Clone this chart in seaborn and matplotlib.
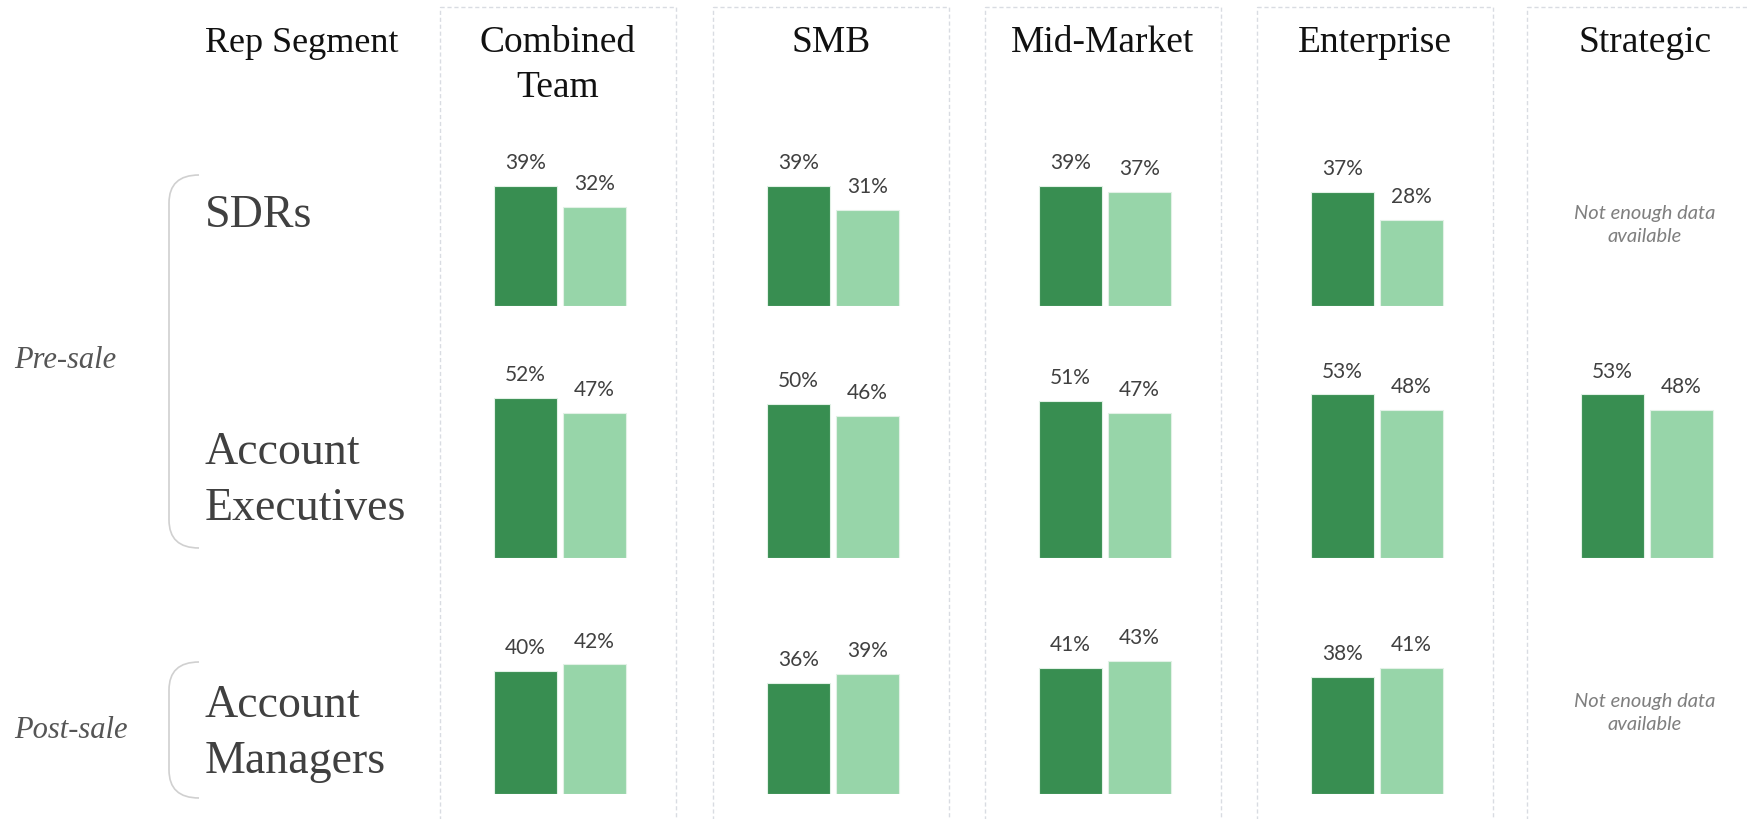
import pandas as pd
import numpy as np
import matplotlib.pyplot as plt
from matplotlib.patches import Rectangle, PathPatch
from matplotlib.path import Path
import seaborn as sns

sns.set_theme(style="white")
plt.rcParams["font.family"] = ["Liberation Serif", "DejaVu Serif"]

# ------------------------------
# Data
# ------------------------------
segments = ["Combined\nTeam", "SMB", "Mid-Market", "Enterprise", "Strategic"]
roles = ["SDRs", "Account\nExecutives", "Account\nManagers"]
groups = ["Pre-sale", "Post-sale"]
series = ["Series A", "Series B"]

sdr_a = [39, 39, 39, 37, np.nan]
sdr_b = [32, 31, 37, 28, np.nan]
ae_a = [52, 50, 51, 53, 53]
ae_b = [47, 46, 47, 48, 48]
am_a = [40, 36, 41, 38, np.nan]
am_b = [42, 39, 43, 41, np.nan]

values = [(sdr_a, sdr_b), (ae_a, ae_b), (am_a, am_b)]
no_data_text = "Not enough data\navailable"

# ------------------------------
# Style / layout (pixels)
# ------------------------------
W, H = 1749, 820
dark, light = "#388E51", "#97D5A9"
panel_left = [440, 713, 985, 1257, 1527]
panel_w = 236
row_base = [307, 559, 795]
px_per_pct = 3.085
ymax = 60

fig = plt.figure(figsize=(W / 100, H / 100), dpi=100)
bg = fig.add_axes([0, 0, 1, 1])
bg.set_xlim(0, W)
bg.set_ylim(H, 0)
bg.axis("off")

# dashed column frames
for left in panel_left:
    bg.add_patch(Rectangle((left, 8), panel_w, 900, fill=False,
                           ec="#d9dce2", lw=1, ls=(0, (3, 2))))

# rounded brackets for pre-/post-sale
def bracket(y0, y1, x0=169, x1=199, r=28):
    verts = [(x1, y0), (x0, y0), (x0, y0 + r), (x0, y1 - r), (x0, y1), (x1, y1)]
    codes = [Path.MOVETO, Path.CURVE3, Path.CURVE3, Path.LINETO, Path.CURVE3, Path.CURVE3]
    bg.add_patch(PathPatch(Path(verts, codes), fill=False, ec="#d0d0d0", lw=1.2))

bracket(176, 549)
bracket(663, 799)

# header texts
bg.text(205, 52, "Rep Segment", fontsize=26, color="#111111", va="baseline")
for left, seg in zip(panel_left, segments):
    for j, line in enumerate(seg.split("\n")):
        bg.text(left + panel_w / 2, 52 + 45 * j, line, fontsize=27,
                color="#111111", ha="center", va="baseline")

# row labels
role_baselines = [[227], [464, 520], [717, 773]]
for role, bases in zip(roles, role_baselines):
    for line, yb in zip(role.split("\n"), bases):
        bg.text(205, yb, line, fontsize=33, color="#404040", va="baseline")

for grp, yb in zip(groups, [368, 738]):
    bg.text(14, yb, grp, fontsize=22, style="italic", color="#555555", va="baseline")

# ------------------------------
# Bars
# ------------------------------
for r, (vals_a, vals_b) in enumerate(values):
    for c, left in enumerate(panel_left):
        cx = left + 120
        if np.isnan(vals_a[c]):
            bg.text(cx - 2, row_base[r] - 82, no_data_text, ha="center", va="center",
                    fontsize=14.5, style="italic", color="#7f7f7f",
                    family=["Lato", "DejaVu Sans"], linespacing=1.45)
            continue
        h = ymax * px_per_pct
        ax = fig.add_axes([(cx - 69) / W, 1 - row_base[r] / H, 138 / W, h / H])
        df = pd.DataFrame({"series": series, "value": [vals_a[c], vals_b[c]]})
        sns.barplot(data=df, x="series", y="value", hue="series",
                    palette=[dark, light], saturation=1, width=0.9, ax=ax,
                    legend=False, edgecolor="#e2f1e6", linewidth=0.8)
        ax.set_xlim(-0.5, 1.5)
        ax.set_ylim(0, ymax)
        ax.axis("off")
        ax.patch.set_alpha(0)
        for cont in ax.containers:
            ax.bar_label(cont, fmt="%.0f%%", padding=10, fontsize=15,
                         color="#404040", family=["Lato", "DejaVu Sans"])

fig.savefig("out.png", dpi=100)
